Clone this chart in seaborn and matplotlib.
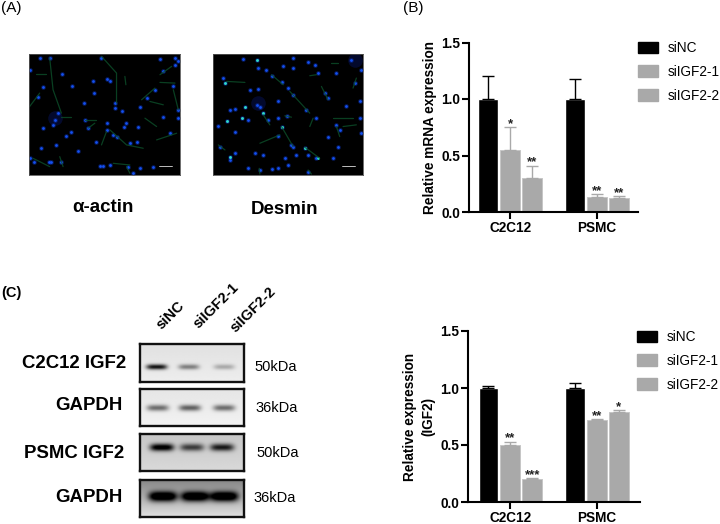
import numpy as np
import pandas as pd
import matplotlib
matplotlib.use('Agg')
import matplotlib.pyplot as plt
import seaborn as sns

W, H = 720, 524

groups = ['C2C12', 'PSMC']
treatments = ['siNC', 'siIGF2-1', 'siIGF2-2']

# panel B values, upper error bar ends and stars
b_sinc = [1.0, 1.0]
b_si1 = [0.55, 0.13]
b_si2 = [0.30, 0.12]
b_sinc_top = [1.20, 1.18]
b_si1_top = [0.75, 0.16]
b_si2_top = [0.41, 0.14]
b_si1_star = ['*', '**']
b_si2_star = ['**', '**']

# panel C values
c_sinc = [1.0, 1.0]
c_si1 = [0.50, 0.72]
c_si2 = [0.20, 0.79]
c_sinc_top = [1.02, 1.04]
c_si1_top = [0.53, 0.725]
c_si2_top = [0.21, 0.805]
c_si1_star = ['**', '**']
c_si2_star = ['***', '*']

actin_nuclei = [(92,120),(120,85),(150,85),(188,133),(218,170),(130,172),(115,203),(282,190),(320,148),(305,85),
    (330,155),(345,235),(253,220),(175,250),(165,270),(160,285),(130,293),(200,318),(213,305),(170,345),(123,353),
    (235,363),(92,385),(103,397),(148,397),(185,395),(155,395),(300,407),(330,405),(310,408),(385,410),(400,428),
    (420,415),(460,410),(290,335),(340,315),(322,280),(320,300),(373,290),(415,292),(365,245),(377,278),(420,232),
    (440,205),(465,180),(490,125),(525,105),(480,88),(520,170),(533,240),(535,265),(490,260),(510,310),(410,335),
    (390,340),(350,322),(265,295),(255,270),(280,155),(345,220),(525,85),(535,95)]
actin_fibres = [[(150,85),(160,180),(185,250)],[(110,132),(140,132)],[(305,80),(350,130),(350,220)],[(375,140),(378,165)],
    [(330,300),(380,345),(430,355)],[(425,210),(465,175)],[(480,135),(515,110)],[(480,158),(525,160)],[(435,265),(470,290)],
    [(470,330),(530,310)],[(100,385),(150,410)],[(180,380),(190,410)],[(305,345),(320,305)],[(340,400),(390,405)],
    [(255,270),(290,270)],[(520,180),(535,240)],[(185,262),(215,262)],[(90,230),(120,190)],[(450,215),(490,225)],
    [(380,410),(390,430)],[(265,295),(285,280)]]
actin_clumps = [(165, 265)]
desmin_nuclei = [(730,88),(770,92),(775,115),(797,122),(850,110),(880,85),(880,115),(925,98),(945,105),(1010,130),
    (1055,90),(1085,120),(955,130),(845,157),(815,140),(670,145),(675,160),(750,180),(775,178),(865,175),(880,195),
    (975,190),(985,205),(1065,160),(770,225),(780,232),(735,232),(705,238),(690,240),(835,215),(920,240),(950,265),
    (725,265),(745,270),(680,272),(655,288),(705,305),(790,250),(805,270),(835,265),(860,258),(845,292),(835,318),
    (880,350),(875,345),(985,320),(1010,285),(1020,300),(1085,310),(1015,350),(1000,385),(915,355),(925,375),(950,385),
    (890,375),(660,350),(690,380),(690,390),(705,370),(765,368),(790,375),(745,415),(780,420),(815,418),(835,415),
    (865,405),(925,425),(855,385),(1080,215),(1080,265),(1040,230)]
desmin_bright = [(735,232),(725,265),(680,272),(845,292),(915,355),(955,385),(690,380),(790,250),(675,160),(770,92)]
desmin_fibres = [[(815,135),(850,165)],[(870,185),(930,250)],[(790,255),(810,285)],[(1030,290),(1070,285)],
    [(1000,265),(1060,265)],[(965,170),(985,210)],[(930,138),(950,135)],[(680,155),(735,158)],[(780,340),(840,315)],
    [(845,290),(880,350)],[(915,352),(960,385)],[(1010,290),(1020,320)],[(655,345),(675,360)],[(940,265),(930,290)],
    [(995,100),(1015,100)],[(1070,145),(1060,175)],[(855,258),(875,262)],[(925,420),(935,432)],[(778,415),(780,432)]]
desmin_clumps = [(775, 220), (1065, 92)]

# western blots: lane darkness and centre, band width, row and thickness, background grey top and bottom
blot_names = ['C2C12 IGF2', 'GAPDH', 'PSMC IGF2', 'GAPDH']
blot_sizes = ['50kDa', '36kDa', '50kDa', '36kDa']
blot_lanes = [[0.85, 0.42, 0.25], [0.50, 0.55, 0.50], [0.90, 0.58, 0.72], [1.0, 1.0, 1.0]]
blot_centres = [[0.16, 0.47, 0.81], [0.17, 0.48, 0.81], [0.21, 0.50, 0.79], [0.22, 0.53, 0.81]]
blot_widths = [0.10, 0.105, 0.115, 0.135]
blot_rows = [0.63, 0.51, 0.36, 0.46]
blot_thick = [0.07, 0.085, 0.10, 0.13]
blot_bg_top = [0.88, 0.90, 0.78, 0.52]
blot_bg_bottom = [0.93, 0.95, 0.85, 0.88]

sns.set_style('ticks')
plt.rcParams['font.family'] = ['Liberation Sans', 'DejaVu Sans']
plt.rcParams['axes.linewidth'] = 1.5
plt.rcParams['text.color'] = 'black'
plt.rcParams['axes.labelcolor'] = 'black'
plt.rcParams['axes.edgecolor'] = 'black'
plt.rcParams['xtick.color'] = 'black'
plt.rcParams['ytick.color'] = 'black'

fig = plt.figure(figsize=(W / 100, H / 100), dpi=100)


def px_axes(x0, y0, x1, y1):
    # pixel box from the top left corner of the figure
    return fig.add_axes([x0 / W, 1 - y1 / H, (x1 - x0) / W, (y1 - y0) / H])


def put_text(x, y, s, **kw):
    kw.setdefault('ha', 'center')
    kw.setdefault('va', 'center')
    fig.text(x / W, 1 - y / H, s, **kw)


def draw_micrograph(box, xlim, ylim, nuclei, fibres, clumps, bright=()):
    ax = px_axes(*box)
    ax.set_facecolor('black')
    xs, ys = zip(*clumps)
    ax.scatter(xs, ys, s=110, color='#0a1c80', alpha=0.35, linewidths=0)
    for fibre in fibres:
        xs, ys = zip(*fibre)
        ax.plot(xs, ys, color='#0c4f2a', lw=0.9, alpha=0.8, solid_capstyle='round')
    xs, ys = zip(*nuclei)
    ax.scatter(xs, ys, s=12, color='#0b2fb0', alpha=0.45, linewidths=0)
    ax.scatter(xs, ys, s=4, color='#1450f0', linewidths=0)
    if bright:
        xs, ys = zip(*bright)
        ax.scatter(xs, ys, s=4, color='#30e0c0', linewidths=0)
    ax.set_xlim(*xlim)
    ax.set_ylim(*ylim)
    ax.set_xticks([])
    ax.set_yticks([])
    for s in ax.spines.values():
        s.set_linewidth(0.6)
        s.set_color('#555555')
    ax.plot([xlim[1] - 62, xlim[1] - 23], [ylim[0] - 28, ylim[0] - 28], color='#dddddd', lw=0.6)
    return ax


def draw_blot(box, lanes, centres, width, row, thick, bg_top, bg_bottom):
    ax = px_axes(*box)
    yy, xx = np.mgrid[0:1:120j, 0:1:320j]
    img = bg_top + (bg_bottom - bg_top) * yy
    for centre, dark in zip(centres, lanes):
        band = np.exp(-((xx - centre) / width) ** 4) * np.exp(-((yy - row) / thick) ** 2)
        img = img - dark * band
    ax.imshow(np.clip(img, 0, 1), cmap='gray', vmin=0, vmax=1, aspect='auto', extent=[0, 1, 1, 0],
              interpolation='bilinear')
    ax.set_xticks([])
    ax.set_yticks([])
    for s in ax.spines.values():
        s.set_linewidth(1.7)
        s.set_color('#111111')
    return ax


def draw_bars(box, xlim, sinc, si1, si2, tops, stars, ylabel, legend_px):
    ax = px_axes(*box)
    df = pd.DataFrame({
        'group': groups * 3,
        'treatment': np.repeat(treatments, 2),
        'value': sinc + si1 + si2,
    })
    palette = {'siNC': '#000000', 'siIGF2-1': '#a9a9a9', 'siIGF2-2': '#a9a9a9'}
    sns.barplot(data=df, x='group', y='value', hue='treatment', order=groups, hue_order=treatments,
                palette=palette, saturation=1, width=0.76, gap=0.09, errorbar=None, ax=ax, legend=False)
    # errorbar adds containers of its own, so keep the bar ones first
    bar_sets = list(ax.containers)
    for i, cont in enumerate(bar_sets):
        for j, bar in enumerate(cont):
            xc = bar.get_x() + bar.get_width() / 2
            h = bar.get_height()
            if i > 0:
                bar.set_edgecolor('#c6c6c6')
                bar.set_linewidth(0.7)
            ax.errorbar(xc, h, yerr=[[0], [tops[i][j] - h]], fmt='none', ecolor=palette[treatments[i]],
                        elinewidth=1.0, capsize=4, capthick=1.0, zorder=1)
            if stars[i] is not None:
                ax.text(xc, tops[i][j] - 0.025, stars[i][j], ha='center', va='bottom',
                        fontsize=9.5, fontweight='bold', color='#222222', linespacing=1)
    ax.set_xlim(*xlim)
    ax.set_ylim(0, 1.5)
    ax.set_yticks([0, 0.5, 1.0, 1.5])
    ax.set_yticklabels(['0.0', '0.5', '1.0', '1.5'])
    ax.set_xlabel('')
    ax.set_ylabel(ylabel, fontsize=9.8, fontweight='bold', labelpad=3, linespacing=1.4)
    ax.tick_params(axis='both', width=1.5, length=5, labelsize=9.8, pad=1.5)
    for lab in ax.get_xticklabels() + ax.get_yticklabels():
        lab.set_fontweight('bold')
    ax.spines['top'].set_visible(False)
    ax.spines['right'].set_visible(False)
    ax.patch.set_alpha(0)
    # legend swatches sit to the right of the axes
    handles = [plt.Rectangle((0, 0), 1, 1, color=palette[t]) for t in treatments]
    ax.legend(handles, treatments, loc='upper left',
              bbox_to_anchor=(legend_px[0] / W, 1 - legend_px[1] / H), bbox_transform=fig.transFigure,
              frameon=False, fontsize=9.8, handlelength=1.47, handleheight=0.92, labelspacing=0.72,
              handletextpad=0.72, borderaxespad=0, borderpad=0)
    return ax


# (A) micrographs
draw_micrograph((29, 54, 180, 175), (88, 540), (435, 73), actin_nuclei, actin_fibres, actin_clumps)
draw_micrograph((213, 54, 363, 175), (639, 1090), (435, 73), desmin_nuclei, desmin_fibres, desmin_clumps, desmin_bright)
put_text(103, 207, '\u03b1-actin', fontsize=13.5, fontweight='bold')
put_text(285, 210, 'Desmin', fontsize=13.5, fontweight='bold')

# (B) and (C) bar charts
draw_bars((469, 42.5, 638, 212), (-0.474, 1.474), b_sinc, b_si1, b_si2, [b_sinc_top, b_si1_top, b_si2_top],
          [None, b_si1_star, b_si2_star], 'Relative mRNA expression', (638, 41))
draw_bars((468, 331, 640, 502), (-0.49, 1.497), c_sinc, c_si1, c_si2, [c_sinc_top, c_si1_top, c_si2_top],
          [None, c_si1_star, c_si2_star], 'Relative expression\n(IGF2)', (637, 330))

# (C) blots
blot_boxes = [(140, 343.5, 244, 381.5), (140, 389, 244, 426), (140, 434, 244, 471), (140, 479.5, 244, 517)]
name_x = [126, 123, 124, 123]
name_y = [363, 406, 453, 497]
size_x = [276, 277, 278, 275]
size_y = [367, 408, 453, 498]
for i, box in enumerate(blot_boxes):
    draw_blot(box, blot_lanes[i], blot_centres[i], blot_widths[i], blot_rows[i], blot_thick[i],
              blot_bg_top[i], blot_bg_bottom[i])
    put_text(name_x[i], name_y[i], blot_names[i], ha='right', fontsize=13.4, fontweight='bold')
    put_text(size_x[i], size_y[i], blot_sizes[i], fontsize=10.5)
for x, y, name in zip([159, 196, 233], [327, 326, 330], treatments):
    put_text(x, y, name, rotation=45, ha='left', va='center', rotation_mode='anchor',
             fontsize=10.5, fontweight='bold')

put_text(1, 8, '(A)', ha='left', fontsize=11)
put_text(403, 8, '(B)', ha='left', fontsize=11)
put_text(1, 293, '(C)', ha='left', fontsize=10.5, fontweight='bold')

fig.savefig('out.png', dpi=100)
